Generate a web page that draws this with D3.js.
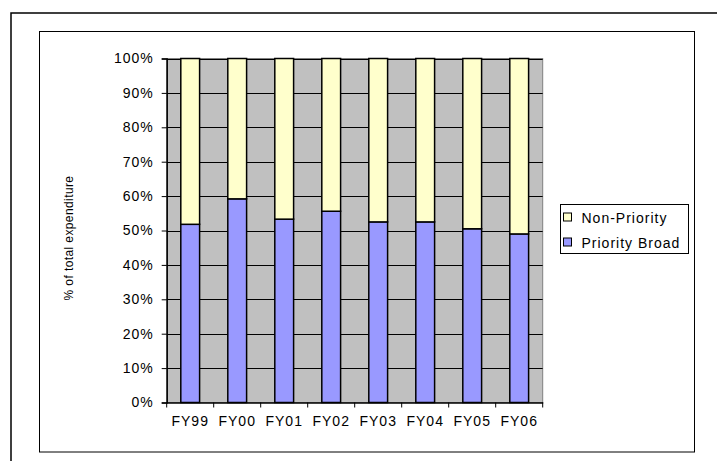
<!DOCTYPE html>
<html>
<head>
<meta charset="utf-8">
<script src="https://cdn.jsdelivr.net/npm/d3@7"></script>
<style>
  html, body { margin: 0; padding: 0; background: #fff; }
  svg { display: block; }
  text { font-family: "Liberation Sans", Arial, sans-serif; fill: #000; }
</style>
</head>
<body>
<svg id="chart" width="717" height="461"></svg>
<script>
const categories = ["FY99", "FY00", "FY01", "FY02", "FY03", "FY04", "FY05", "FY06"];
const priorityBroad = [51.8, 59.2, 53.3, 55.6, 52.5, 52.5, 50.5, 49.0];
const nonPriority = priorityBroad.map(v => 100 - v);
const yTicks = [0, 10, 20, 30, 40, 50, 60, 70, 80, 90, 100];
const seriesNames = ["Priority Broad", "Non-Priority"];
const seriesColors = ["#9999FF", "#FFFFCC"];
const legendOrder = ["Non-Priority", "Priority Broad"];
const yTitle = "% of total expenditure";

const svg = d3.select("#chart");
const FONT = "Liberation Sans, Arial, sans-serif";

// outer frame (extends off the bottom/right)
svg.append("rect").attr("x", 11).attr("y", 13).attr("width", 720).attr("height", 460)
  .attr("fill", "none").attr("stroke", "#000").attr("stroke-width", 1.5);
// inner chart frame
svg.append("rect").attr("x", 39.5).attr("y", 31.5).attr("width", 655).attr("height", 420.5)
  .attr("fill", "#fff").attr("stroke", "#000").attr("stroke-width", 1);

const plot = { left: 166.7, right: 542.7, top: 58.5, bottom: 402.5 };

const x = d3.scaleBand().domain(categories).range([plot.left, plot.right]).paddingInner(0.6).paddingOuter(0.3);
const xOuter = d3.scaleBand().domain(categories).range([plot.left, plot.right]);
const y = d3.scaleLinear().domain([0, 100]).range([plot.bottom, plot.top]);

// plot background
svg.append("rect").attr("x", plot.left).attr("y", plot.top)
  .attr("width", plot.right - plot.left).attr("height", plot.bottom - plot.top)
  .attr("fill", "#C0C0C0").attr("stroke", "#808080").attr("stroke-width", 1);

// gridlines
svg.append("g").selectAll("line").data(yTicks.filter(t => t > 0)).join("line")
  .attr("x1", plot.left).attr("x2", plot.right)
  .attr("y1", d => Math.round(y(d)) + 0.5).attr("y2", d => Math.round(y(d)) + 0.5)
  .attr("stroke", "#000").attr("stroke-width", 1);

// stacked bars
const stackData = categories.map((c, i) => ({ cat: c, pb: priorityBroad[i], np: nonPriority[i] }));
const stack = d3.stack().keys(["pb", "np"])(stackData);
svg.append("g").selectAll("g").data(stack).join("g")
  .attr("fill", (d, i) => seriesColors[i])
  .selectAll("rect").data(d => d).join("rect")
  .attr("x", d => x(d.data.cat))
  .attr("width", x.bandwidth())
  .attr("y", d => y(d[1]))
  .attr("height", d => y(d[0]) - y(d[1]))
  .attr("stroke", "#000").attr("stroke-width", 1.5);

// y axis
const yAxis = d3.axisLeft(y).tickValues(yTicks).tickFormat(d => d + "%").tickSize(5).tickPadding(8);
const gy = svg.append("g").attr("transform", `translate(${plot.left},0)`).call(yAxis);
gy.select(".domain").attr("stroke", "#000").attr("stroke-width", 1.5);
gy.selectAll(".tick line").attr("stroke", "#000");
gy.selectAll("text").attr("font-size", 14).attr("font-family", FONT)
  .attr("letter-spacing", 1).attr("fill", "#000");

// x axis
const xAxis = d3.axisBottom(xOuter).tickSize(0).tickPadding(13.5);
const gx = svg.append("g").attr("transform", `translate(0,${plot.bottom})`).call(xAxis);
gx.select(".domain").attr("stroke", "#000").attr("stroke-width", 1.5);
gx.selectAll("text").attr("font-size", 14).attr("font-family", FONT)
  .attr("letter-spacing", 1).attr("fill", "#000");
// category boundary ticks
gx.append("g").selectAll("line").data(categories.concat(["__end"])).join("line")
  .attr("x1", (d, i) => plot.left + i * xOuter.step())
  .attr("x2", (d, i) => plot.left + i * xOuter.step())
  .attr("y1", 0).attr("y2", 5).attr("stroke", "#000");

// y title
svg.append("text")
  .attr("transform", `translate(73,238) rotate(-90)`)
  .attr("text-anchor", "middle").attr("font-size", 12).attr("letter-spacing", 0.4)
  .text(yTitle);

// legend
const lg = svg.append("g");
lg.append("rect").attr("x", 560.5).attr("y", 204.5).attr("width", 128).attr("height", 49)
  .attr("fill", "#fff").attr("stroke", "#000").attr("stroke-width", 1);
const items = lg.selectAll("g.item").data(legendOrder).join("g")
  .attr("transform", (d, i) => `translate(563,${222.5 + i * 25})`);
items.append("rect").attr("x", 0.5).attr("y", -9.5).attr("width", 8).attr("height", 8)
  .attr("fill", d => seriesColors[seriesNames.indexOf(d)]).attr("stroke", "#000").attr("stroke-width", 1);
items.append("text").attr("x", 18.5).attr("y", 0).attr("font-size", 14).attr("letter-spacing", 1).text(d => d);
</script>
</body>
</html>
